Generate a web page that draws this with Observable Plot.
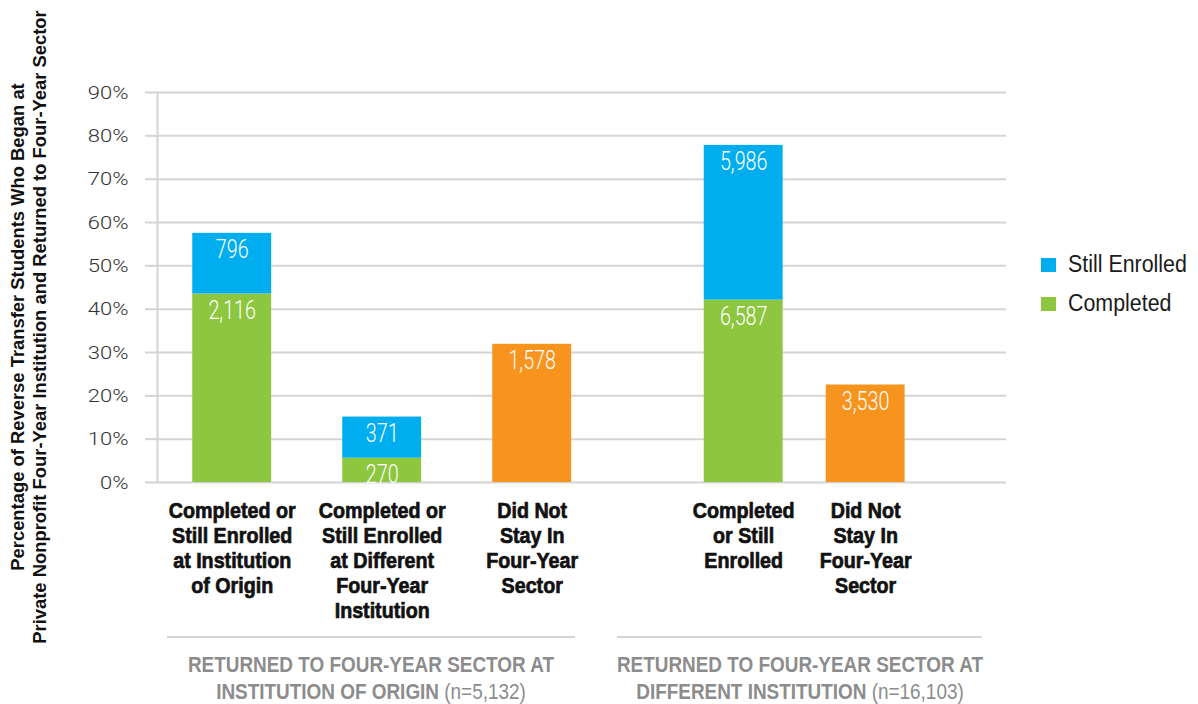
<!DOCTYPE html>
<html>
<head>
<meta charset="utf-8">
<script src="https://cdn.jsdelivr.net/npm/d3@7"></script>
<script src="https://cdn.jsdelivr.net/npm/@observablehq/plot@0.6"></script>
<style>
  html, body { margin: 0; padding: 0; background: #fff; }
  #wrap { position: relative; width: 1198px; height: 704px; overflow: hidden; }
  .cond { font-family: "Liberation Sans", Arial, sans-serif; }
  .ytitle { position: absolute; width: 760px; height: 44px; left: -351px; top: 305px; transform: rotate(-90deg); text-align: center; font-weight: bold; font-size: 18.4px; letter-spacing: 0; line-height: 21.5px; color: #111; white-space: nowrap; }
  .legend { position: absolute; left: 1041px; top: 245px; font-size: 23px; color: #1a1a1a; }
  .legend .item { display: flex; align-items: center; height: 39px; }
  .legend .sw { width: 15px; height: 14px; margin-right: 12px; flex: none; }
  .legend .tx { display: inline-block; transform: scaleX(0.93); transform-origin: left center; }
  .sep { position: absolute; height: 2px; background: #d4d4d4; top: 636px; }
  .glabel { position: absolute; top: 651px; width: 600px; text-align: center; color: #8c8c8c; font-size: 22px; line-height: 27px; font-weight: bold; white-space: nowrap; transform: scaleX(0.86); transform-origin: center; }
  .glabel .n { font-weight: normal; }
</style>
</head>
<body>
<div id="wrap"></div>
<script>
// ---------------- data ----------------
const categories = [
  "Completed or\nStill Enrolled\nat Institution\nof Origin",
  "Completed or\nStill Enrolled\nat Different\nFour-Year\nInstitution",
  "Did Not\nStay In\nFour-Year\nSector",
  "Completed\nor Still\nEnrolled",
  "Did Not\nStay In\nFour-Year\nSector"
];
const categoryGroup = [0, 0, 0, 1, 1];
const groupTitles = ["RETURNED TO FOUR-YEAR SECTOR AT\nINSTITUTION OF ORIGIN", "RETURNED TO FOUR-YEAR SECTOR AT\nDIFFERENT INSTITUTION"];
const groupN = ["(n=5,132)", "(n=16,103)"];
const seriesNames = ["Completed", "Still Enrolled", "Did Not Stay"];
const completedPct = [43.5, 5.6, 0, 42.1, 0];
const stillEnrolledPct = [14.0, 9.5, 0, 35.7, 0];
const didNotStayPct = [0, 0, 31.9, 0, 22.5];
const completedCount = [2116, 270, null, 6587, null];
const stillEnrolledCount = [796, 371, null, 5986, null];
const didNotStayCount = [null, null, 1578, null, 3530];
const yTicks = [0, 10, 20, 30, 40, 50, 60, 70, 80, 90];
const legendSeries = ["Still Enrolled", "Completed"];
const seriesColors = ["#8DC63F", "#00AEEF", "#F7941D"];

// ---------------- layout ----------------
const layout = {
  groupStart: [0, 3.41],   // slot of first bar in each group
  groupStep: [1, 0.813],   // spacing between bars inside each group
  halfBar: 0.263,
  xDomain: [-0.498, 5.162],
  sepExtent: [[-0.43, 0.29], [-0.84, 0.78]] // relative to first / last bar of group
};
const within = categoryGroup.map((g, i) => categoryGroup.slice(0, i).filter(x => x === g).length);
const slot = categoryGroup.map((g, i) => layout.groupStart[g] + within[i] * layout.groupStep[g]);

const pctSeries = [completedPct, stillEnrolledPct, didNotStayPct];
const countSeries = [completedCount, stillEnrolledCount, didNotStayCount];
const rows = [];
categories.forEach((c, i) => {
  let cum = 0;
  seriesNames.forEach((s, k) => {
    const v = pctSeries[k][i];
    if (!v) return;
    rows.push({cat: i, x: slot[i], series: s, y1: cum, y2: cum + v, count: countSeries[k][i]});
    cum += v;
  });
});
const catRows = categories.map((c, i) => ({label: c, x: slot[i]}));

const SANS = '"Liberation Sans", Arial, sans-serif';
const grid = "#d4d4d4";

const chart = Plot.plot({
  width: 1198,
  height: 704,
  marginTop: 92,
  marginBottom: 222,
  marginLeft: 157,
  marginRight: 192,
  style: {fontFamily: SANS, background: "#fff", overflow: "visible"},
  x: {type: "linear", domain: layout.xDomain, axis: null},
  y: {domain: [0, 90], axis: null},
  color: {domain: seriesNames, range: seriesColors},
  marks: [
    Plot.gridY(yTicks, {stroke: grid, strokeOpacity: 1, strokeWidth: 2}),
    Plot.axisY(yTicks, {
      tickSize: 12, tickPadding: 17, stroke: grid, strokeWidth: 2, strokeOpacity: 1,
      tickFormat: d => d + "%", fill: "#333", fontSize: 19, fontWeight: 300,
      fontFamily: "Roboto, sans-serif", label: null
    }),
    Plot.ruleX([layout.xDomain[0]], {stroke: grid, strokeWidth: 2, y1: 0, y2: 90}),
    Plot.rectY(rows, {
      x1: d => d.x - layout.halfBar, x2: d => d.x + layout.halfBar,
      y1: "y1", y2: "y2", fill: "series"
    }),
    Plot.text(rows, {
      x: "x", y: "y2", text: d => d3.format(",")(d.count),
      lineAnchor: "top", dy: 7, fill: "#fff", fontSize: 25, fontWeight: 300,
      fontFamily: "Roboto, sans-serif"
    }),
    Plot.text(catRows, {
      x: "x", y: 0, text: "label", lineAnchor: "top", dy: 18,
      fontSize: 22, fontWeight: "bold", fill: "#111", lineHeight: 1.136,
      stroke: "#111", strokeWidth: 0.7
    })
  ]
});

// narrow the glyphs to mimic a condensed face
function squeeze(group, s) {
  if (!group) return;
  group.querySelectorAll("text").forEach(t => {
    t.setAttribute("transform", (t.getAttribute("transform") || "") + ` scale(${s},1)`);
  });
}
const textGroups = chart.querySelectorAll('g[aria-label="text"]');
squeeze(textGroups[0], 0.79);
squeeze(textGroups[1], 0.895);
squeeze(chart.querySelector('g[aria-label="y-axis tick label"]'), 1.16);

const wrap = document.getElementById("wrap");
wrap.appendChild(chart);
const xs = chart.scale("x");
const px = v => xs.apply(v);

// y-axis title
const yt = document.createElement("div");
yt.className = "ytitle cond";
yt.innerHTML = "Percentage of Reverse Transfer Students Who Began at<br>Private Nonprofit Four-Year Institution and Returned to Four-Year Sector";
wrap.appendChild(yt);

// legend
const lg = document.createElement("div");
lg.className = "legend cond";
legendSeries.forEach(s => {
  const it = document.createElement("div");
  it.className = "item";
  const sw = document.createElement("span");
  sw.className = "sw";
  sw.style.background = seriesColors[seriesNames.indexOf(s)];
  const tx = document.createElement("span");
  tx.className = "tx";
  tx.textContent = s;
  it.appendChild(sw);
  it.appendChild(tx);
  lg.appendChild(it);
});
wrap.appendChild(lg);

// group separators and labels
groupTitles.forEach((t, g) => {
  const idx = categoryGroup.map((gg, i) => gg === g ? i : -1).filter(i => i >= 0);
  const left = px(slot[idx[0]] + layout.sepExtent[g][0]);
  const right = px(slot[idx[idx.length - 1]] + layout.sepExtent[g][1]);
  const sep = document.createElement("div");
  sep.className = "sep";
  sep.style.left = left + "px";
  sep.style.width = (right - left) + "px";
  wrap.appendChild(sep);
  const lab = document.createElement("div");
  lab.className = "glabel cond";
  const center = (left + right) / 2;
  lab.style.left = (center - 300) + "px";
  const lines = t.split("\n");
  lab.innerHTML = lines[0] + "<br>" + lines[1] + ' <span class="n">' + groupN[g] + "</span>";
  wrap.appendChild(lab);
});
</script>
</body>
</html>
